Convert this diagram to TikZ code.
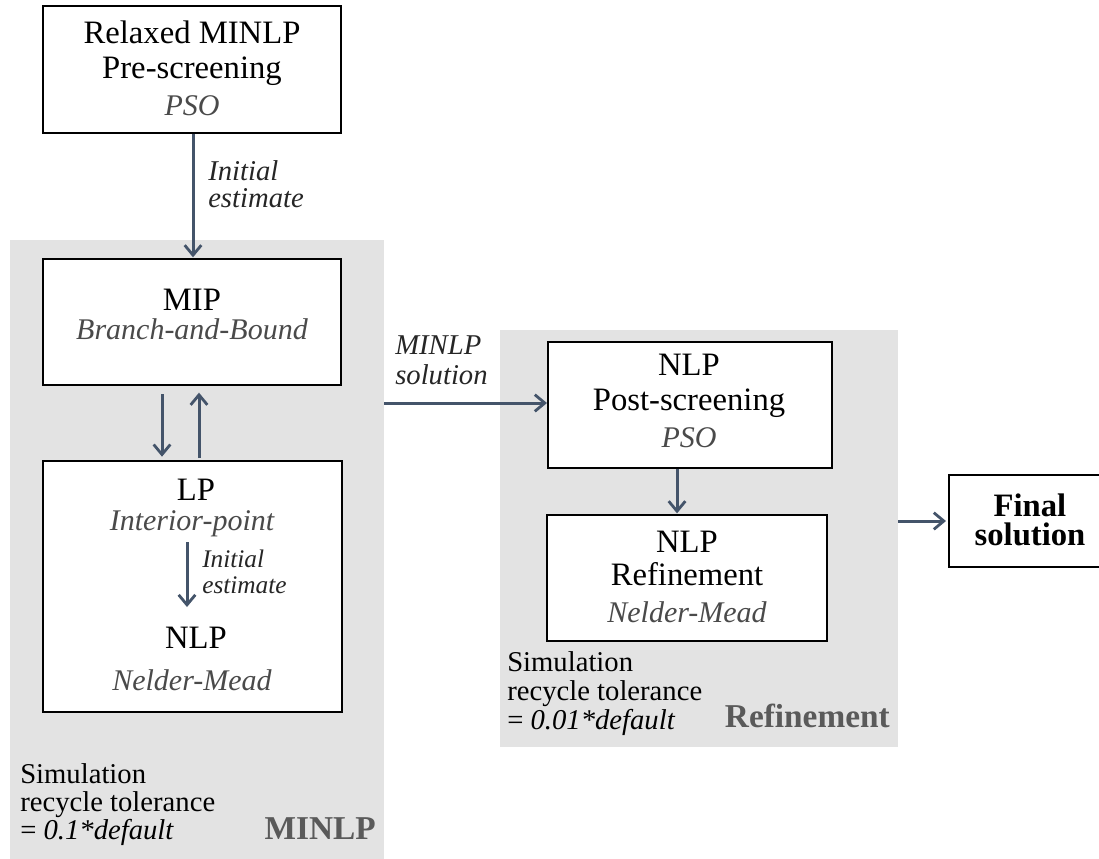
\documentclass[tikz,border=0pt]{standalone}
\usepackage{fontspec}
\setmainfont{Liberation Serif}
\usetikzlibrary{arrows.meta,fit}
\definecolor{arrc}{HTML}{44546A}
\definecolor{bgc}{HTML}{E3E3E3}
\definecolor{subc}{HTML}{4A4A4A}
\definecolor{lblc}{HTML}{262626}
\definecolor{regc}{HTML}{5A5A5A}
\begin{document}
\begin{tikzpicture}[x=0.75pt,y=-0.75pt,
  box/.style={draw=black, line width=1.5pt, fill=white, inner sep=0pt},
  bgbox/.style={fill=bgc, draw=none, inner sep=0pt},
  arr/.style={draw=arrc, line width=2.25pt, -{Straight Barb[length=7.5pt,width=12.5pt,line width=2.1pt]}},
  maintxt/.style={anchor=base, inner sep=0pt, font=\fontsize{24.5}{28}\selectfont},
  subtxt/.style={anchor=base, inner sep=0pt, text=subc, font=\fontsize{22.5}{26}\selectfont\itshape},
  lbl/.style={anchor=base west, inner sep=0pt, text=lblc, font=\fontsize{21.5}{24}\selectfont\itshape},
  smlbl/.style={anchor=base west, inner sep=0pt, text=lblc, font=\fontsize{19}{22}\selectfont\itshape},
  simtxt/.style={anchor=base west, inner sep=0pt, font=\fontsize{21.5}{24}\selectfont},
  regtxt/.style={anchor=base east, inner sep=0pt, text=regc, font=\fontsize{25}{28}\selectfont\bfseries},
  fintxt/.style={anchor=center, inner sep=0pt, align=center, font=\fontsize{24.5}{21.5}\selectfont\bfseries}
]
\clip (0,0) rectangle (1099,858);
\fill[white] (0,0) rectangle (1099,858);

% background regions
\node[bgbox, fit={(10,240) (384,860)}] (minlpbg) {};
\node[bgbox, fit={(500,330) (898,747)}] (refbg) {};

% boxes
\node[box, fit={(43,6) (341,133)}] (pre) {};
\node[box, fit={(43,259) (341,385)}] (mip) {};
\node[box, fit={(43,461) (342,712)}] (lp) {};
\node[box, fit={(548,342) (832,468)}] (post) {};
\node[box, fit={(547,515) (827,641)}] (ref) {};
\node[box, fit={(949,475) (1112,567)}] (final) {};

% box texts
\node[maintxt] (t1) at (192,43.5) {Relaxed MINLP};
\node[maintxt] (t2) at (192,78.5) {Pre-screening};
\node[subtxt] (t3) at (192,115) {PSO};

\node[maintxt] (t4) at (192,310) {MIP};
\node[subtxt] (t5) at (192,339) {Branch-and-Bound};

\node[maintxt] (t6) at (196,500) {LP};
\node[subtxt] (t7) at (192,530) {Interior-point};
\node[maintxt] (t8) at (196,648) {NLP};
\node[subtxt] (t9) at (192,690) {Nelder-Mead};

\node[maintxt] (t10) at (689,375) {NLP};
\node[maintxt] (t11) at (689,410) {Post-screening};
\node[subtxt] (t12) at (689,447) {PSO};

\node[maintxt] (t13) at (687,552) {NLP};
\node[maintxt] (t14) at (687,585) {Refinement};
\node[subtxt] (t15) at (687,622) {Nelder-Mead};

\node[fintxt] (t16) at (1030,520) {Final\\solution};

% labels
\node[lbl] (l1) at (208,180) {Initial};
\node[lbl] (l2) at (208,207) {estimate};
\node[smlbl] (l3) at (202,567) {Initial};
\node[smlbl] (l4) at (202,593) {estimate};
\node[lbl] (l5) at (395,354) {MINLP};
\node[lbl] (l6) at (395,384) {solution};

% simulation notes
\node[simtxt] (s1) at (20,783) {Simulation};
\node[simtxt] (s2) at (20,811) {recycle tolerance};
\node[simtxt] (s3) at (20,839) {= \textit{0.1*default}};
\node[simtxt] (s4) at (507,671) {Simulation};
\node[simtxt] (s5) at (507,700) {recycle tolerance};
\node[simtxt] (s6) at (507,729) {= \textit{0.01*default}};

\node[regtxt] (r1) at (376,839) {MINLP};
\node[regtxt] (r2) at (890,727) {Refinement};

% connectors
\coordinate (xa) at (193,0);
\coordinate (xd) at (162,0);
\coordinate (xu) at (199,0);
\coordinate (xi) at (187,0);
\coordinate (xr) at (677,0);
\coordinate (yi1) at (0,542);
\coordinate (yi2) at (0,607);
\coordinate (ys) at (0,403);

\draw[arr, shorten >=0.5pt] (pre.south -| xa) -- (mip.north -| xa);
\draw[arr, shorten <=6pt, shorten >=2.5pt] (mip.south -| xd) -- (lp.north -| xd);
\draw[arr, shorten <=1.5pt, shorten >=5pt] (lp.north -| xu) -- (mip.south -| xu);
\draw[arr] (xi |- yi1) -- (xi |- yi2);
\draw[arr] (minlpbg.east |- ys) -- (post.west |- ys);
\draw[arr, shorten >=0.5pt] (post.south -| xr) -- (ref.north -| xr);
\draw[arr, shorten >=1.5pt] (refbg.east |- final.west) -- (final.west);
\end{tikzpicture}
\end{document}
